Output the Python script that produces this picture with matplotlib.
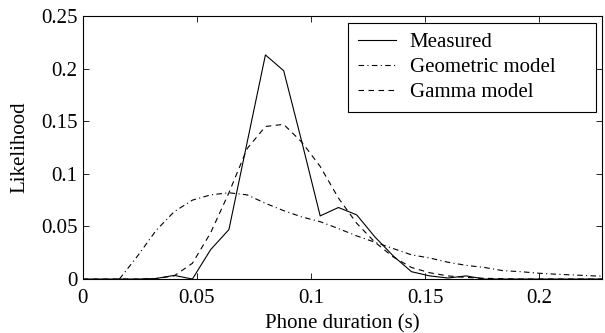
import matplotlib
matplotlib.use('Agg')
import matplotlib.pyplot as plt
import numpy as np

plt.rcParams['font.family'] = ['Liberation Serif', 'DejaVu Serif']
plt.rcParams['mathtext.fontset'] = 'stix'

# duration grid (s), bins of 8 ms
dur = np.arange(0, 30) * 0.008

measured = [0, 0, 0, 0, 0.0005, 0.0035, 0.0, 0.028, 0.047, 0.13,
            0.213, 0.198, 0.13, 0.060, 0.068, 0.061, 0.040, 0.022, 0.007, 0.003,
            0.001, 0.003, 0.0, 0, 0, 0, 0, 0, 0, 0]

geometric = [0, 0, 0, 0.022, 0.046, 0.064, 0.075, 0.080, 0.082, 0.080,
             0.072, 0.065, 0.059, 0.0545, 0.048, 0.041, 0.035, 0.029, 0.023, 0.020,
             0.016, 0.013, 0.011, 0.008, 0.007, 0.0055, 0.0045, 0.0038, 0.003, 0.0025]

gamma = [0, 0, 0, 0, 0.0005, 0.003, 0.015, 0.044, 0.082, 0.124,
         0.145, 0.147, 0.130, 0.107, 0.077, 0.053, 0.035, 0.021, 0.011, 0.006,
         0.003, 0.0015, 0.0007, 0.0003, 0, 0, 0, 0, 0, 0]

xticks = [0, 0.05, 0.1, 0.15, 0.2]
xticklabels = ['0', '0.05', '0.1', '0.15', '0.2']
yticks = [0, 0.05, 0.1, 0.15, 0.2, 0.25]
yticklabels = ['0', '0.05', '0.1', '0.15', '0.2', '0.25']

fs = 15

fig = plt.figure(figsize=(6.05, 3.33), dpi=100)
ax = fig.add_axes([0.137, 0.162, 0.858, 0.79])

# geometric starts from zero at 0.016
geo_x = dur[2:]
geo_y = geometric[2:]

ax.plot(dur, measured, color='black', lw=0.8, label='Measured')
ax.plot(geo_x, geo_y, color='black', lw=0.8, dashes=[5, 3, 1, 3], label='Geometric model')
ax.plot(dur, gamma, color='black', lw=0.8, dashes=[5, 4], label='Gamma model')

ax.set_xlim(0, 0.2275)
ax.set_ylim(0, 0.25)
ax.set_xticks(xticks)
ax.set_xticklabels(xticklabels)
ax.set_yticks(yticks)
ax.set_yticklabels(yticklabels)
ax.tick_params(direction='in', top=True, right=True, labelsize=fs, length=4, width=0.6, pad=4)
ax.tick_params(axis='x', pad=7)
for s in ax.spines.values():
  s.set_linewidth(0.8)

ax.set_xlabel('Phone duration (s)', fontsize=fs, labelpad=5)
ax.set_ylabel('Likelihood', fontsize=fs, labelpad=8.5)

# matlab style legend box, wider than its text
leg = ax.legend(loc='upper left', bbox_to_anchor=(0.511, 0.65, 0.478, 0.323), mode='expand',
                fontsize=fs, fancybox=False, framealpha=1,
                edgecolor='black', handlelength=1.85, borderaxespad=0.0,
                labelspacing=0.27, borderpad=0.45, handletextpad=0.65)
leg.get_frame().set_linewidth(0.8)

plt.savefig('out.png', dpi=100)
